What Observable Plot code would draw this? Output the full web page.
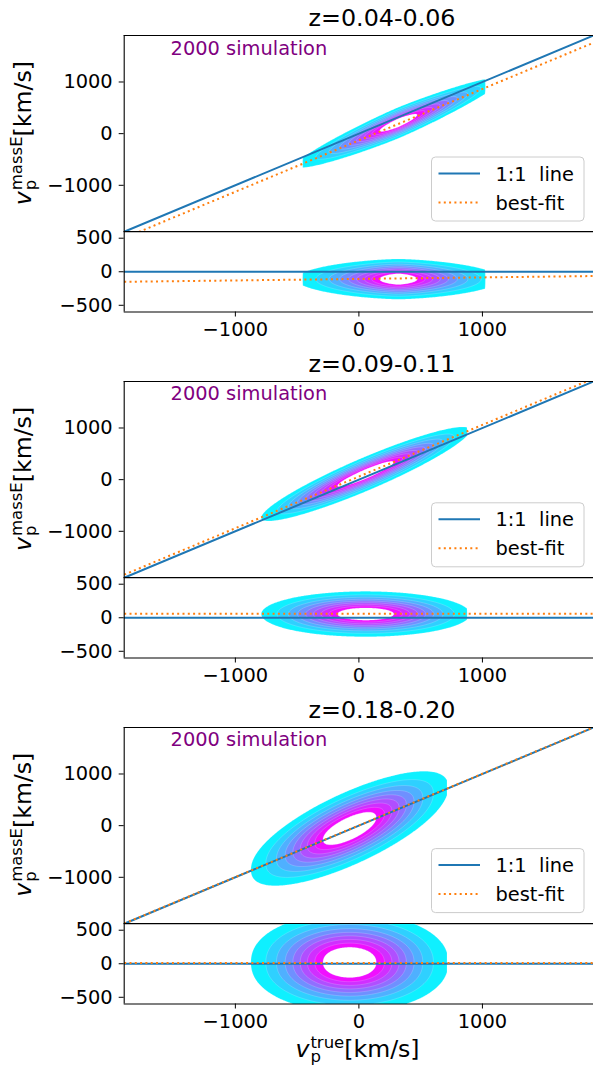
<!DOCTYPE html>
<html><head><meta charset="utf-8">
<script src="https://cdn.jsdelivr.net/npm/d3@7"></script>
<script src="https://cdn.jsdelivr.net/npm/@observablehq/plot@0.6"></script>
<style>
html,body{margin:0;padding:0;background:#fff;overflow:hidden}
#fig{position:relative;width:593px;height:1067px;overflow:hidden;font-family:"DejaVu Sans"}
</style></head><body><div id="fig"></div>
<script>
// ---------------- data ----------------
const panelTitles = ["z=0.04-0.06", "z=0.09-0.11", "z=0.18-0.20"];
const annotation = "2000 simulation";
const legendLabels = ["1:1  line", "best-fit"];
const xDomain = [-1900, 1900];
const mainYDomain = [-1900, 1900];
const residDomain = [-600, 600];
const xTicks = [-1000, 0, 1000];
const mainYTicks = [-1000, 0, 1000];
const residTicks = [-500, 0, 500];
// best-fit lines (main: v_massE vs v_true ; residual: v_massE - v_true vs v_true)
const fitSlope = [0.995, 1.0, 1.0];
const fitIntercept = [-130, 60, 5];
const residFitSlope = [0.0226, 0, 0];
const residFitIntercept = [-107, 58, 10];
// density of the simulated haloes (v_true, residual)
const trueCenter = [320, 55, -75];
const trueWidth = [315, 400, 378];
const trueShape = [1.55, 2, 2];
const trueMin = [-460, -800, -1000];
const trueMax = [1025, 880, 715];
const residCenter = [-110, 55, 20];
const residWidth = [142, 160, 375];
const residShape = [2.0, 2, 2.2];
const levelFractions = [0.107, 0.2, 0.293, 0.386, 0.478, 0.571, 0.664, 0.757, 0.85];

// ---------------- styles / layout ----------------
const BLUE = "#1f77b4", ORANGE = "#ff7f0e";
const bandColors = d3.range(8).map(i => d3.interpolateRgb("#00ffff", "#ff00ff")(0.06 + 0.88 * i / 7));
const W = 594, LEFT = 123.7, RIGHTM = 594 - 593.1;
const MAIN_H = 196.3, RES_H = 80.5, PANEL_DY = 345.8, TOP0 = 35;
const TICK_FS = 19.4, LABEL_FS = 23.6, TITLE_FS = 23.8;
const fig = document.getElementById("fig");

function density(i, x, r) {
  if (x < trueMin[i] || x > trueMax[i]) return 0;
  const u = Math.abs(x - trueCenter[i]) / trueWidth[i];
  const v = Math.abs(r - residCenter[i]) / residWidth[i];
  return Math.exp(-0.5 * Math.pow(u, trueShape[i]) - 0.5 * Math.pow(v, residShape[i]));
}

const colorOpts = {type: "threshold", domain: levelFractions.slice(1), range: [...bandColors, "#ffffff"]};
const baseStyle = {fontFamily: "DejaVu Sans", fontSize: TICK_FS + "px", color: "black", background: "none", overflow: "visible", maxWidth: "none"};
const dotted = {stroke: ORANGE, strokeWidth: 2, strokeDasharray: "2,3.3", strokeLinecap: "butt", clip: true};
const solid = {stroke: BLUE, strokeWidth: 2, clip: true};

function place(svg, top) {
  svg.style.position = "absolute";
  svg.style.left = "0px";
  svg.style.top = top + "px";
  fig.appendChild(svg);
}

for (let i = 0; i < 3; i++) {
  const mainTop = TOP0 + i * PANEL_DY;
  // main panel
  const main = Plot.plot({
    width: W, height: MAIN_H + 8, marginTop: 4, marginBottom: 4, marginLeft: LEFT, marginRight: RIGHTM,
    style: baseStyle,
    x: {domain: xDomain, axis: null},
    y: {domain: mainYDomain, ticks: mainYTicks, tickSize: 5, tickPadding: 6.5, tickFormat: "d", label: null},
    color: colorOpts,
    marks: [
      Plot.contour({
        x1: xDomain[0], x2: xDomain[1], y1: mainYDomain[0], y2: mainYDomain[1],
        fill: (x, y) => density(i, x, y - x),
        thresholds: levelFractions, pixelSize: 1,
        stroke: "white", strokeOpacity: 0.3, strokeWidth: 0.6
      }),
      Plot.line(xDomain.map(x => ({x, y: x})), {x: "x", y: "y", ...solid}),
      Plot.line(xDomain.map(x => ({x, y: fitSlope[i] * x + fitIntercept[i]})), {x: "x", y: "y", ...dotted}),
      Plot.ruleY([mainYDomain[1]], {stroke: "black", strokeWidth: 1.1}),
      Plot.ruleY([mainYDomain[0]], {stroke: "black", strokeWidth: 1.1}),
      Plot.ruleX([xDomain[0]], {stroke: "black", strokeWidth: 1.1})
    ]
  });
  place(main, mainTop - 4);

  // residual panel
  const res = Plot.plot({
    width: W, height: RES_H + 44, marginTop: 4, marginBottom: 40, marginLeft: LEFT, marginRight: RIGHTM,
    style: baseStyle,
    x: {domain: xDomain, ticks: xTicks, tickSize: 5, tickPadding: 5.5, tickFormat: "d", label: null},
    y: {domain: residDomain, ticks: residTicks, tickSize: 5, tickPadding: 6.5, tickFormat: "d", label: null},
    color: colorOpts,
    marks: [
      Plot.contour({
        x1: xDomain[0], x2: xDomain[1], y1: residDomain[0], y2: residDomain[1],
        fill: (x, r) => density(i, x, r),
        thresholds: levelFractions, pixelSize: 1,
        stroke: "white", strokeOpacity: 0.3, strokeWidth: 0.6
      }),
      Plot.line(xDomain.map(x => ({x, y: 0})), {x: "x", y: "y", ...solid}),
      Plot.line(xDomain.map(x => ({x, y: residFitSlope[i] * x + residFitIntercept[i]})), {x: "x", y: "y", ...dotted}),
      Plot.ruleY([residDomain[1]], {stroke: "black", strokeWidth: 1.1}),
      Plot.ruleY([residDomain[0]], {stroke: "black", strokeWidth: 1.1}),
      Plot.ruleX([xDomain[0]], {stroke: "black", strokeWidth: 1.1})
    ]
  });
  place(res, mainTop + MAIN_H - 4);
}

// ---------------- overlay texts, legends ----------------
const NS = "http://www.w3.org/2000/svg";
const ov = document.createElementNS(NS, "svg");
ov.setAttribute("width", 593); ov.setAttribute("height", 1067);
ov.style.position = "absolute"; ov.style.left = "0px"; ov.style.top = "0px";
ov.style.fontFamily = "DejaVu Sans";
fig.appendChild(ov);
function el(tag, attrs, parent = ov) {
  const e = document.createElementNS(NS, tag);
  for (const k in attrs) e.setAttribute(k, attrs[k]);
  parent.appendChild(e);
  return e;
}
function txt(str, attrs, parent = ov) {
  const e = el("text", attrs, parent);
  e.textContent = str;
  return e;
}
function mathLabel(cx, cy, rot, base, sub, sup, rest) {
  const g = el("g", {});
  const small = LABEL_FS * 0.7;
  const t1 = txt(base, {x: 0, y: 0, "font-size": LABEL_FS, "font-style": "italic"}, g);
  const w1 = t1.getComputedTextLength() + 1;
  const ts = txt(sup, {x: w1, y: -8.5, "font-size": small}, g);
  const tb = txt(sub, {x: w1, y: 5.5, "font-size": small}, g);
  const ws = Math.max(ts.getComputedTextLength(), tb.getComputedTextLength());
  const t3 = txt(rest, {x: w1 + ws, y: 0, "font-size": LABEL_FS}, g);
  const total = w1 + ws + t3.getComputedTextLength();
  g.setAttribute("transform", `translate(${cx},${cy}) rotate(${rot}) translate(${-total / 2},0)`);
}

for (let i = 0; i < 3; i++) {
  const mainTop = TOP0 + i * PANEL_DY;
  txt(panelTitles[i], {x: 382, y: mainTop - 9, "text-anchor": "middle", "font-size": TITLE_FS});
  txt(annotation, {x: 170.6, y: mainTop + 19.6, fill: "#800080", "font-size": TICK_FS});
  // legend
  const lx = 431.5, ly = mainTop + 122;
  el("rect", {x: lx, y: ly, width: 152.5, height: 64, rx: 4, fill: "white", "fill-opacity": 0.8, stroke: "#cccccc", "stroke-width": 1});
  el("line", {x1: lx + 7, x2: lx + 48.5, y1: ly + 16.5, y2: ly + 16.5, stroke: BLUE, "stroke-width": 2});
  el("line", {x1: lx + 7, x2: lx + 48.5, y1: ly + 45.5, y2: ly + 45.5, stroke: ORANGE, "stroke-width": 2, "stroke-dasharray": "2,3.3"});
  txt(legendLabels[0], {x: lx + 64, y: ly + 16.5 + 7, "font-size": TICK_FS, style: "white-space:pre"});
  txt(legendLabels[1], {x: lx + 64, y: ly + 45.5 + 7, "font-size": TICK_FS});
  // y label
  mathLabel(30.5, mainTop + MAIN_H / 2, -90, "v", "p", "massE", "[km/s]");
}
mathLabel(357.5, 1056.7, 0, "v", "p", "true", "[km/s]");
</script></body></html>
